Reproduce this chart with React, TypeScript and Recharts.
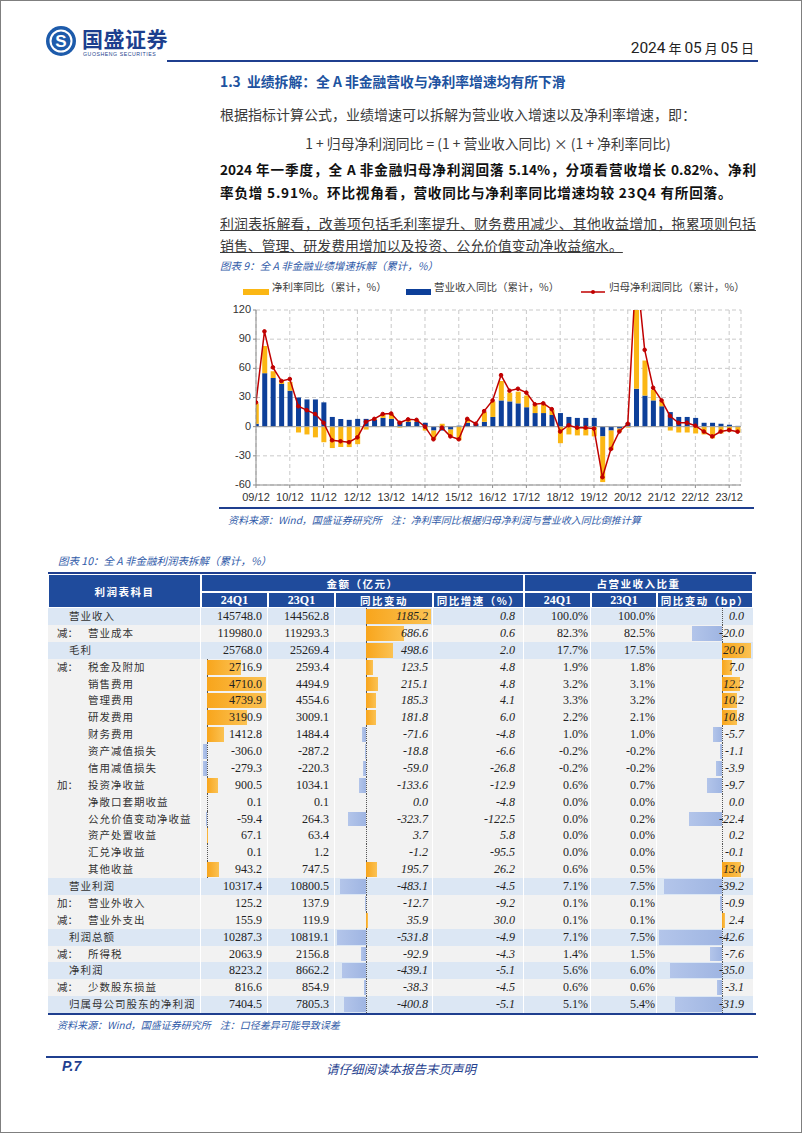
import React from "react";
import {
  ComposedChart,
  Bar,
  Line,
  XAxis,
  YAxis,
  CartesianGrid,
  ReferenceLine,
} from "recharts";

// ---- 图表9 数据（累计同比，%） ----
const periods = [
  "09Q4",
  "10Q1", "10Q2", "10Q3", "10Q4",
  "11Q1", "11Q2", "11Q3", "11Q4",
  "12Q1", "12Q2", "12Q3", "12Q4",
  "13Q1", "13Q2", "13Q3", "13Q4",
  "14Q1", "14Q2", "14Q3", "14Q4",
  "15Q1", "15Q2", "15Q3", "15Q4",
  "16Q1", "16Q2", "16Q3", "16Q4",
  "17Q1", "17Q2", "17Q3", "17Q4",
  "18Q1", "18Q2", "18Q3", "18Q4",
  "19Q1", "19Q2", "19Q3", "19Q4",
  "20Q1", "20Q2", "20Q3", "20Q4",
  "21Q1", "21Q2", "21Q3", "21Q4",
  "22Q1", "22Q2", "22Q3", "22Q4",
  "23Q1", "23Q2", "23Q3", "23Q4",
  "24Q1",
];

const yearLabels = [
  "09/12", "10/12", "11/12", "12/12", "13/12", "14/12", "15/12", "16/12",
  "17/12", "18/12", "19/12", "20/12", "21/12", "22/12", "23/12",
];

const revenueYoy = [
  3,
  55, 50, 44, 37,
  30, 28, 28, 25,
  10, 8, 7, 8,
  8, 7, 9, 8,
  5, 5, 5, 4,
  -4, -4, -3, 1,
  4, 3, 5, 10,
  27, 26, 24, 20,
  14, 14, 12, 14,
  10, 9, 9, 9,
  -10, -4, -2, 4,
  39, 32, 27, 21,
  15, 10, 10, 9,
  4, 4, 3, 2,
  0.82,
];

const netMarginYoy = [
  21,
  28, 7, 3, 9,
  -6, -8, -11, -16,
  -22, -21, -21, -18,
  -3, 1, 4, 5,
  -1, 2, 2, -4,
  -9, 3, -7, -14,
  4, 0, 10, 16,
  20, 9, 12, 12,
  8, 9, 5, -17,
  -8, -9, -9, -10,
  -47, -20, -3, -1,
  91, 36, 11, 5,
  -4, -6, -6, -7,
  -8, -12, -7, -5,
  -5.91,
];

const netProfitYoy = [
  25,
  98, 61, 47, 49,
  21, 17, 13, 4,
  -14, -15, -16, -11,
  5, 8, 13, 13.5,
  4, 7.5, 7, 0,
  -13, -1, -10, -13,
  8, 3, 16, 27,
  53, 37, 39, 35,
  23, 24, 18, -5,
  1.5, -1, -1, -2,
  -52, -23, -5, 3,
  165, 79, 40, 27,
  11, 4, 4, 1,
  -5, -10, -5, -3.5,
  -5.14,
];

// ---- 图表10 数据 ----
const itemNames = [
  "营业收入", "营业成本", "毛利", "税金及附加", "销售费用", "管理费用",
  "研发费用", "财务费用", "资产减值损失", "信用减值损失", "投资净收益",
  "净敞口套期收益", "公允价值变动净收益", "资产处置收益", "汇兑净收益",
  "其他收益", "营业利润", "营业外收入", "营业外支出", "利润总额", "所得税",
  "净利润", "少数股东损益", "归属母公司股东的净利润",
];
const itemPrefixes = [
  "", "减：", "", "减：", "", "", "", "", "", "", "加：", "", "", "", "", "",
  "", "加：", "减：", "", "减：", "", "减：", "",
];
const majorItems = ["营业收入", "毛利", "营业利润", "利润总额", "净利润", "归属母公司股东的净利润"];
const barItems24 = [
  "税金及附加", "销售费用", "管理费用", "研发费用", "财务费用", "资产减值损失",
  "信用减值损失", "投资净收益", "净敞口套期收益", "公允价值变动净收益",
  "资产处置收益", "汇兑净收益", "其他收益",
];
const amount24Q1 = [
  145748.0, 119980.0, 25768.0, 2716.9, 4710.0, 4739.9, 3190.9, 1412.8, -306.0,
  -279.3, 900.5, 0.1, -59.4, 67.1, 0.1, 943.2, 10317.4, 125.2, 155.9, 10287.3,
  2063.9, 8223.2, 816.6, 7404.5,
];
const amount23Q1 = [
  144562.8, 119293.3, 25269.4, 2593.4, 4494.9, 4554.6, 3009.1, 1484.4, -287.2,
  -220.3, 1034.1, 0.1, 264.3, 63.4, 1.2, 747.5, 10800.5, 137.9, 119.9, 10819.1,
  2156.8, 8662.2, 854.9, 7805.3,
];
const amountChange = [
  1185.2, 686.6, 498.6, 123.5, 215.1, 185.3, 181.8, -71.6, -18.8, -59.0, -133.6,
  0.0, -323.7, 3.7, -1.2, 195.7, -483.1, -12.7, 35.9, -531.8, -92.9, -439.1,
  -38.3, -400.8,
];
const amountYoy = [
  0.8, 0.6, 2.0, 4.8, 4.8, 4.1, 6.0, -4.8, -6.6, -26.8, -12.9, -4.8, -122.5,
  5.8, -95.5, 26.2, -4.5, -9.2, 30.0, -4.9, -4.3, -5.1, -4.5, -5.1,
];
const share24Q1 = [
  100.0, 82.3, 17.7, 1.9, 3.2, 3.3, 2.2, 1.0, -0.2, -0.2, 0.6, 0.0, 0.0, 0.0,
  0.0, 0.6, 7.1, 0.1, 0.1, 7.1, 1.4, 5.6, 0.6, 5.1,
];
const share23Q1 = [
  100.0, 82.5, 17.5, 1.8, 3.1, 3.2, 2.1, 1.0, -0.2, -0.2, 0.7, 0.0, 0.2, 0.0,
  0.0, 0.5, 7.5, 0.1, 0.1, 7.5, 1.5, 6.0, 0.6, 5.4,
];
const shareChangeBp = [
  0.0, -20.0, 20.0, 7.0, 12.2, 10.2, 10.8, -5.7, -1.1, -3.9, -9.7, 0.0, -22.4,
  0.2, -0.1, 13.0, -39.2, -0.9, 2.4, -42.6, -7.6, -35.0, -3.1, -31.9,
];

const BLUE = "#1f3f8f";
const CJK = '"Noto Sans CJK SC", sans-serif';
const SERIF = '"Liberation Serif", "Noto Sans CJK SC", serif';

const chartData = periods.map((p, i) => ({
  x: i,
  period: p,
  rev: revenueYoy[i],
  margin: netMarginYoy[i],
  profit: netProfitYoy[i],
}));
const yearTicks = chartData.filter((d) => d.period.endsWith("Q4")).map((d) => d.x);

function Abs(props: { x: number; y: number; style?: React.CSSProperties; children?: React.ReactNode }) {
  return (
    <div style={{ position: "absolute", left: props.x, top: props.y, whiteSpace: "nowrap", ...props.style }}>
      {props.children}
    </div>
  );
}

function Logo() {
  return (
    <div style={{ position: "absolute", left: 44, top: 24 }}>
      <svg width={34} height={34}>
        <circle cx={16} cy={16} r={15} fill="#1d5bab" />
        <circle cx={16} cy={16} r={10.5} fill="none" stroke="#fff" strokeWidth={2} />
        <text x={16} y={22} textAnchor="middle" fontSize={17} fontWeight={700} fill="#fff" fontFamily="Liberation Sans">
          S
        </text>
      </svg>
      <div style={{ position: "absolute", left: 37, top: 0, fontFamily: CJK, fontSize: 21, fontWeight: 700, color: "#1c3f8e", letterSpacing: 0.5, lineHeight: "26px", whiteSpace: "nowrap" }}>
        国盛证券
      </div>
      <div style={{ position: "absolute", left: 38, top: 26, fontFamily: "Liberation Sans", fontSize: 5.2, color: "#1c3f8e", letterSpacing: 0.55, whiteSpace: "nowrap" }}>
        GUOSHENG SECURITIES
      </div>
    </div>
  );
}

function Chart9() {
  const legendText: React.CSSProperties = { fontFamily: CJK, fontSize: 10.5, color: "#404040", position: "absolute", top: -2, whiteSpace: "nowrap" };
  return (
    <div style={{ position: "absolute", left: 210, top: 280, width: 545, height: 225 }}>
      <div style={{ position: "absolute", left: 32, top: 8, width: 26, height: 6, background: "#fbb714" }} />
      <div style={{ ...legendText, left: 61 }}>净利率同比（累计，%）</div>
      <div style={{ position: "absolute", left: 195, top: 8, width: 25, height: 6, background: "#0d3f99" }} />
      <div style={{ ...legendText, left: 223 }}>营业收入同比（累计，%）</div>
      <svg style={{ position: "absolute", left: 370, top: 6 }} width={24} height={10}>
        <line x1={0} y1={5} x2={24} y2={5} stroke="#c00000" strokeWidth={1.5} />
        <circle cx={12} cy={5} r={2} fill="#c00000" />
      </svg>
      <div style={{ ...legendText, left: 398 }}>归母净利润同比（累计，%）</div>
      <ComposedChart
        width={545}
        height={225}
        data={chartData}
        stackOffset="sign"
        margin={{ top: 29, right: 15, bottom: 0, left: 0 }}
      >
        <CartesianGrid stroke="#c9c9c9" strokeDasharray="4 3" />
        <XAxis
          dataKey="x"
          type="number"
          domain={[0, 57.4]}
          allowDataOverflow
          ticks={yearTicks}
          interval={0}
          tickFormatter={(v: number) => yearLabels[yearTicks.indexOf(v)]}
          tick={{ fontSize: 11, fill: "#333", fontFamily: "Liberation Sans", dy: 3 }}
          axisLine={{ stroke: "#8c8c8c" }}
          tickLine={{ stroke: "#8c8c8c" }}
          tickSize={3}
          height={21}
        />
        <YAxis
          domain={[-60, 120]}
          ticks={[-60, -30, 0, 30, 60, 90, 120]}
          allowDataOverflow
          width={45}
          tick={{ fontSize: 11, fill: "#333", fontFamily: "Liberation Sans", dy: -1 }}
          axisLine={{ stroke: "#8c8c8c" }}
          tickLine={{ stroke: "#8c8c8c" }}
          tickSize={3}
        />
        <ReferenceLine y={0} stroke="#a0a0a0" />
        <Bar dataKey="rev" stackId="s" fill="#0d3f99" barSize={5} isAnimationActive={false} />
        <Bar dataKey="margin" stackId="s" fill="#fbb714" barSize={5} isAnimationActive={false} />
        <Line
          dataKey="profit"
          stroke="#c00000"
          strokeWidth={1.5}
          dot={{ r: 1.8, fill: "#c00000", stroke: "#c00000", strokeWidth: 1 }}
          isAnimationActive={false}
        />
      </ComposedChart>
    </div>
  );
}

// 表格列边界（像素）
const colX = [47, 200, 267, 334, 432, 523, 590, 656, 752];
const TABLE_TOP = 573;
const ROW_TOP = 607;
const ROW_H = 16.875;

function DataBar(props: { value: number; min: number; max: number; width: number; height: number }) {
  const { value, min, max, width, height } = props;
  const inner = width - 4;
  const axis = 2 + (-min / (max - min)) * inner;
  const len = (Math.abs(value) / (max - min)) * inner;
  const pos = value >= 0;
  return (
    <>
      <div style={{ position: "absolute", left: axis, top: 0, height, borderLeft: "1px dotted #555" }} />
      {len > 0.2 && (
        <div
          style={{
            position: "absolute",
            top: 1,
            height: height - 2,
            left: pos ? axis : axis - len,
            width: len,
            background: pos
              ? "linear-gradient(to right, #f8a51c, #fbc253)"
              : "linear-gradient(to left, #9fb5e2, #b3c5ea)",
          }}
        />
      )}
    </>
  );
}

function Table10() {
  const hdr: React.CSSProperties = {
    position: "absolute",
    background: "#1f4b9c",
    color: "#fff",
    display: "flex",
    alignItems: "center",
    justifyContent: "center",
    fontWeight: 700,
    boxSizing: "border-box",
    border: "0.5px solid #fff",
    whiteSpace: "nowrap",
  };
  const hdrCjk: React.CSSProperties = { fontFamily: CJK, fontSize: 10.5, letterSpacing: 1.5 };
  const hdrNum: React.CSSProperties = { fontFamily: SERIF, fontSize: 12 };
  const subHeads = ["24Q1", "23Q1", "同比变动", "同比增速（%）", "24Q1", "23Q1", "同比变动（bp）"];
  const min1 = Math.min(...amount24Q1.filter((_, i) => barItems24.includes(itemNames[i])));
  const max1 = Math.max(...amount24Q1.filter((_, i) => barItems24.includes(itemNames[i])));
  const min3 = Math.min(...amountChange);
  const max3 = Math.max(...amountChange);
  const min7 = Math.min(...shareChangeBp);
  const max7 = Math.max(...shareChangeBp);
  const rightPad = [0, 5, 5, 4, 8, 2, 1, 9];

  return (
    <>
      <div style={{ position: "absolute", left: 47, top: TABLE_TOP - 2, width: 708, height: 2, background: BLUE }} />
      <div style={{ ...hdr, ...hdrCjk, left: colX[0], top: TABLE_TOP, width: colX[1] - colX[0], height: ROW_TOP - TABLE_TOP }}>利润表科目</div>
      <div style={{ ...hdr, ...hdrCjk, left: colX[1], top: TABLE_TOP, width: colX[5] - colX[1], height: 18 }}>金额（亿元）</div>
      <div style={{ ...hdr, ...hdrCjk, left: colX[5], top: TABLE_TOP, width: colX[8] - colX[5], height: 18 }}>占营业收入比重</div>
      {subHeads.map((h, c) => (
        <div
          key={c}
          style={{
            ...hdr,
            ...(/^[0-9]/.test(h) ? hdrNum : hdrCjk),
            left: colX[c + 1],
            top: TABLE_TOP + 18,
            width: colX[c + 2] - colX[c + 1],
            height: ROW_TOP - TABLE_TOP - 18,
          }}
        >
          {h}
        </div>
      ))}
      {itemNames.map((name, i) => {
        const top = ROW_TOP + i * ROW_H;
        const major = majorItems.includes(name);
        const bg = major ? "#dce7f4" : "#f2f2f2";
        const cells = [
          null,
          amount24Q1[i].toFixed(1),
          amount23Q1[i].toFixed(1),
          amountChange[i].toFixed(1),
          amountYoy[i].toFixed(1),
          share24Q1[i].toFixed(1) + "%",
          share23Q1[i].toFixed(1) + "%",
          shareChangeBp[i].toFixed(1),
        ];
        return (
          <React.Fragment key={name}>
            {cells.map((txt, c) => {
              const w = colX[c + 1] - colX[c];
              const italic = c === 3 || c === 4 || c === 7;
              return (
                <div
                  key={c}
                  style={{
                    position: "absolute",
                    left: colX[c],
                    top,
                    width: w,
                    height: ROW_H,
                    background: bg,
                    boxSizing: "border-box",
                    borderRight: c < 7 ? "1px solid #fff" : undefined,
                    overflow: "hidden",
                  }}
                >
                  {c === 1 && barItems24.includes(name) && (
                    <DataBar value={amount24Q1[i]} min={min1} max={max1} width={w} height={ROW_H} />
                  )}
                  {c === 3 && <DataBar value={amountChange[i]} min={min3} max={max3} width={w} height={ROW_H} />}
                  {c === 7 && <DataBar value={shareChangeBp[i]} min={min7} max={max7} width={w} height={ROW_H} />}
                  {c === 0 ? (
                    <>
                      {itemPrefixes[i] && (
                        <div style={{ position: "absolute", left: 9, top: 0, lineHeight: ROW_H + "px", fontFamily: CJK, fontSize: 10.5, color: "#333" }}>
                          {itemPrefixes[i]}
                        </div>
                      )}
                      <div
                        style={{
                          position: "absolute",
                          left: major ? 21 : 40,
                          top: 0,
                          lineHeight: ROW_H + "px",
                          fontFamily: CJK,
                          fontSize: 10.5,
                          letterSpacing: 1,
                          color: "#333",
                          whiteSpace: "nowrap",
                        }}
                      >
                        {name}
                      </div>
                    </>
                  ) : (
                    <div
                      style={{
                        position: "absolute",
                        right: rightPad[c],
                        top: 0,
                        lineHeight: ROW_H + "px",
                        fontFamily: SERIF,
                        fontSize: 12,
                        fontStyle: italic ? "italic" : "normal",
                        color: "#222",
                        whiteSpace: "nowrap",
                      }}
                    >
                      {txt}
                    </div>
                  )}
                </div>
              );
            })}
          </React.Fragment>
        );
      })}
      <div style={{ position: "absolute", left: 47, top: ROW_TOP + itemNames.length * ROW_H, width: 708, height: 2, background: BLUE }} />
    </>
  );
}

export default function App() {
  const body: React.CSSProperties = { fontFamily: CJK, color: "#3a3a3a" };
  const justified: React.CSSProperties = { width: 536, textAlign: "justify", textAlignLast: "justify", whiteSpace: "normal" };
  const caption: React.CSSProperties = { fontFamily: CJK, fontStyle: "italic", fontSize: 10.5, color: "#2f5aa8" };
  return (
    <div
      style={{
        position: "absolute",
        left: 0,
        top: 0,
        width: 802,
        height: 1133,
        background: "#fff",
        border: "1px solid #7f7f7f",
        boxSizing: "border-box",
        overflow: "hidden",
      }}
    >
      <Logo />
      <Abs x={0} y={37} style={{ width: 753, textAlign: "right", fontFamily: "Roboto", fontSize: 15.5, color: "#222" }}>
        2024<span style={{ fontFamily: CJK, fontSize: 13 }}> 年 </span>05
        <span style={{ fontFamily: CJK, fontSize: 13 }}> 月 </span>05
        <span style={{ fontFamily: CJK, fontSize: 13 }}> 日</span>
      </Abs>
      <div style={{ position: "absolute", left: 166, top: 59, width: 591, height: 2, background: BLUE }} />

      <Abs x={219} y={70} style={{ fontFamily: CJK, fontSize: 13.8, fontWeight: 700, color: "#2052a0" }}>
        1.3&nbsp;&nbsp;业绩拆解：全 A 非金融营收与净利率增速均有所下滑
      </Abs>
      <Abs x={219} y={103} style={{ ...body, fontSize: 14 }}>
        根据指标计算公式，业绩增速可以拆解为营业收入增速以及净利率增速，即：
      </Abs>
      <Abs x={0} y={132} style={{ ...body, width: 974, textAlign: "center", fontSize: 13.8 }}>
        1 + 归母净利润同比 = (1 + 营业收入同比) × (1 + 净利率同比)
      </Abs>
      <Abs x={219} y={158} style={{ ...body, ...justified, color: "#111", fontWeight: 700, fontSize: 13.6 }}>
        2024 年一季度，全 A 非金融归母净利润回落 5.14%，分项看营收增长 0.82%、净利
      </Abs>
      <Abs x={219} y={181} style={{ ...body, color: "#111", fontWeight: 700, fontSize: 13.6, letterSpacing: 0.8 }}>
        率负增 5.91%。环比视角看，营收同比与净利率同比增速均较 23Q4 有所回落。
      </Abs>
      <Abs x={219} y={212} style={{ ...body, ...justified, fontSize: 13.9, textDecoration: "underline" }}>
        利润表拆解看，改善项包括毛利率提升、财务费用减少、其他收益增加，拖累项则包括
      </Abs>
      <Abs x={219} y={234} style={{ ...body, fontSize: 13.9, textDecoration: "underline" }}>
        销售、管理、研发费用增加以及投资、公允价值变动净收益缩水。
      </Abs>

      <Abs x={219} y={257} style={caption}>
        图表 9：全 A 非金融业绩增速拆解（累计，%）
      </Abs>
      <Chart9 />
      <div style={{ position: "absolute", left: 218, top: 506, width: 535, height: 1.5, background: BLUE }} />
      <Abs x={227} y={511} style={{ ...caption, fontSize: 10 }}>
        资料来源：Wind，国盛证券研究所&nbsp;&nbsp;&nbsp;&nbsp;注：净利率同比根据归母净利润与营业收入同比倒推计算
      </Abs>

      <Abs x={57} y={552} style={caption}>
        图表 10：全 A 非金融利润表拆解（累计，%）
      </Abs>
      <Table10 />
      <Abs x={56} y={1016} style={{ ...caption, fontSize: 10 }}>
        资料来源：Wind，国盛证券研究所&nbsp;&nbsp;&nbsp;&nbsp;注：口径差异可能导致误差
      </Abs>

      <div style={{ position: "absolute", left: 45, top: 1055, width: 712, height: 2, background: BLUE }} />
      <Abs x={61} y={1057} style={{ fontFamily: "Liberation Sans", fontStyle: "italic", fontWeight: 700, fontSize: 14, color: BLUE }}>
        P.7
      </Abs>
      <Abs x={0} y={1058} style={{ width: 800, textAlign: "center", fontFamily: CJK, fontStyle: "italic", fontSize: 12.5, color: BLUE }}>
        请仔细阅读本报告末页声明
      </Abs>
    </div>
  );
}
